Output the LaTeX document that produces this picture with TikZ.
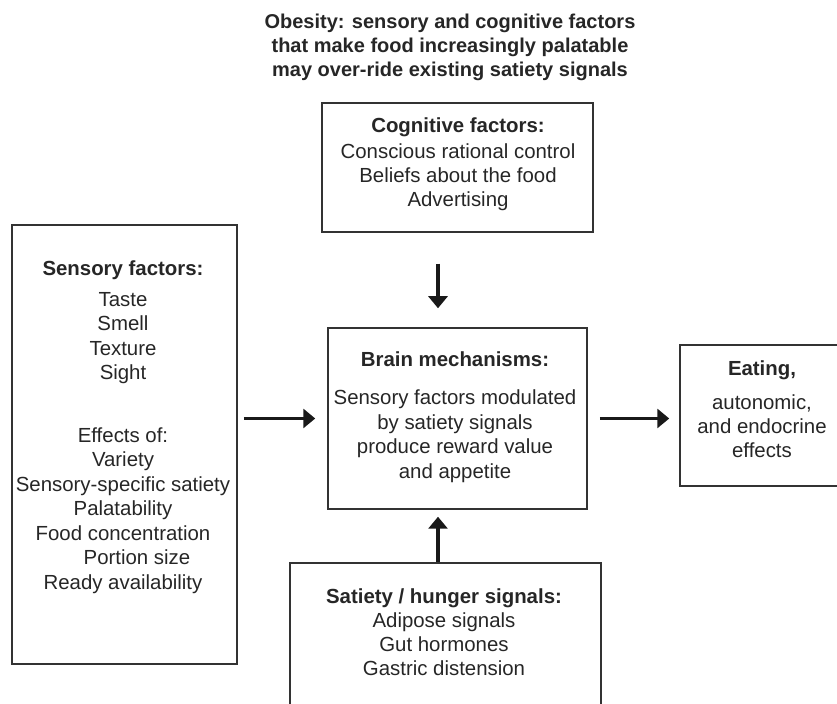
\documentclass[tikz,border=0pt]{standalone}
\usepackage{fontspec}
\setmainfont{Liberation Sans}
\usetikzlibrary{arrows.meta}

\begin{document}
\begin{tikzpicture}[
  x=0.5pt, y=-0.5pt,
  box/.style={draw=black!80, line width=0.75pt, minimum width=#1, inner sep=0pt},
  txt/.style={align=center, text=black!85, inner sep=0pt, font=\fontsize{10.2}{12}\selectfont},
  arr/.style={line width=1.75pt, black!90, -{Triangle[length=6pt, width=9.5pt]}}
]

% Canvas
\clip (0,0) rectangle (837,704);

% Title
\node[txt, font=\fontsize{10}{12}\selectfont\bfseries] (title) at (450,47)
  {Obesity: sensory and cognitive factors\\
   that make food increasingly palatable\\
   may over-ride existing satiety signals};

% Boxes
\node[box=135.5pt, minimum height=64.5pt] (cog) at (457.5,167.5) {};
\node[box=112.5pt, minimum height=219.5pt] (sens) at (124.5,444.5) {};
\node[box=129.5pt, minimum height=90.5pt] (brain) at (457.5,418.5) {};
\node[box=82.5pt, minimum height=70.5pt] (eat) at (762.5,415.5) {};
\node[box=155.5pt, minimum height=108.5pt] (sat) at (445.5,671.5) {};

% Texts in the boxes
\node[txt] (cogtxt) at (458,164)
  {\textbf{Cognitive factors:}\\[1pt]
   Conscious rational control\\
   Beliefs about the food\\
   Advertising};
\node[txt, font=\fontsize{10.2}{12.25}\selectfont] (senstxt) at (123,427)
  {\textbf{Sensory factors:}\\[3.25pt]
   Taste\\ Smell\\ Texture\\ Sight\\[19pt]
   Effects of:\\ Variety\\ Sensory-specific satiety\\ Palatability\\
   Food concentration\\ \hspace*{14pt}Portion size\\ Ready availability};
\node[txt, font=\fontsize{10.2}{12.25}\selectfont] (braintxt) at (455,417)
  {\textbf{Brain mechanisms:}\\[6.75pt]
   Sensory factors modulated\\
   by satiety signals\\
   produce reward value\\
   and appetite};
\node[txt] (eattxt) at (762,409)
  {\textbf{Eating,}\\[4.75pt]
   autonomic,\\
   and endocrine\\
   effects};
\node[txt] (sattxt) at (444,632.5)
  {\textbf{Satiety / hunger signals:}\\
   Adipose signals\\
   Gut hormones\\
   Gastric distension};

% Arrows
\coordinate (ax) at (438,0);
\draw[arr, shorten <=3pt, shorten >=6pt] (sens.east |- brain.west) -- (brain.west);
\draw[arr, shorten <=6pt, shorten >=5pt] (brain.east) -- (brain.east -| eat.west);
\draw[arr, shorten <=15.5pt, shorten >=9.5pt] (cog.south -| ax) -- (brain.north -| ax);
\draw[arr, shorten >=3.5pt] (sat.north -| ax) -- (brain.south -| ax);

\end{tikzpicture}
\end{document}
